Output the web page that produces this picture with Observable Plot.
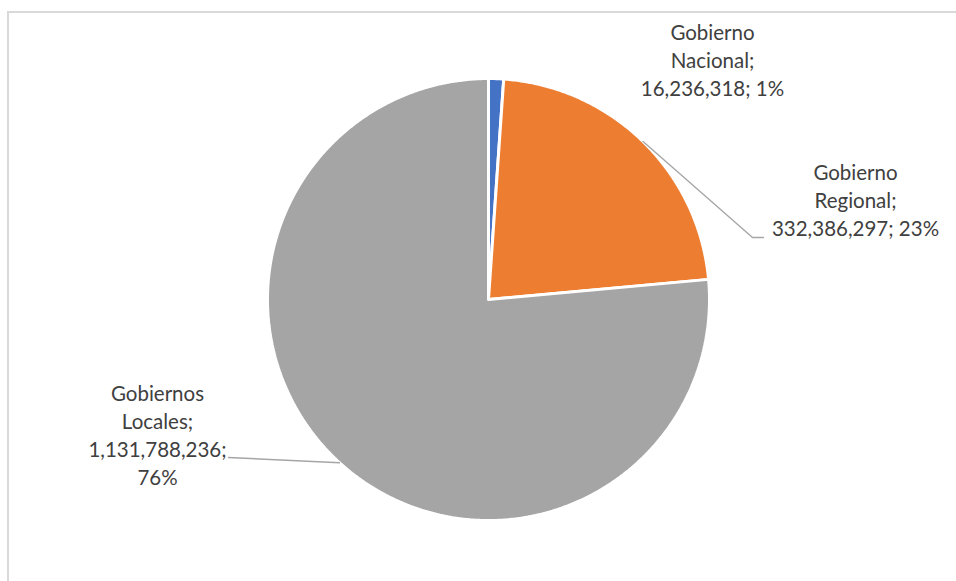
<!DOCTYPE html>
<html>
<head>
<meta charset="utf-8">
<script src="https://cdn.jsdelivr.net/npm/d3@7"></script>
<script src="https://cdn.jsdelivr.net/npm/@observablehq/plot@0.6"></script>
<style>
  html, body { margin: 0; padding: 0; background: #fff; overflow: hidden; }
  #wrap { position: relative; width: 956px; height: 581px; overflow: hidden; }
  #border { position: absolute; left: 7px; top: 11px; width: 1000px; height: 700px;
            border: 2px solid #d9d9d9; box-sizing: border-box; }
  #chart { position: absolute; left: 0; top: 0; }
</style>
</head>
<body>
<div id="wrap"><div id="border"></div><div id="chart"></div></div>
<script>
// ---- data ----
const names = ["Gobierno Nacional", "Gobierno Regional", "Gobiernos Locales"];
const values = [16236318, 332386297, 1131788236];
const pctLabels = [1, 23, 76];
const colors = ["#4472C4", "#ED7D31", "#A5A5A5"];

// label layout (pie radius units, relative to centre)
const labelPos = [
  {x: 1.0136, y: 1.0877, splitLast: false, leader: null},
  {x: 1.6606, y: 0.4552, splitLast: false, leader: [[1.1946, 0.2805], [1.2443, 0.2805]]},
  {x: -1.4977, y: -0.6092, splitLast: true, leader: [[-1.1765, -0.7149]]}
];

const total = d3.sum(values);
const fmt = d3.format(",");
let acc = 0;
const slices = values.map((v, i) => {
  const a0 = acc / total * 2 * Math.PI;
  acc += v;
  const a1 = acc / total * 2 * Math.PI;
  return {name: names[i], a0, a1, mid: (a0 + a1) / 2};
});

// polygon points for each slice
const pts = [];
for (const s of slices) {
  pts.push({name: s.name, x: 0, y: 0});
  const n = Math.max(2, Math.ceil((s.a1 - s.a0) / (Math.PI / 360)));
  for (let k = 0; k <= n; k++) {
    const a = s.a0 + (s.a1 - s.a0) * k / n;
    pts.push({name: s.name, x: Math.sin(a), y: Math.cos(a)});
  }
  pts.push({name: s.name, x: 0, y: 0});
}

// leader lines
const leaders = [];
slices.forEach((s, i) => {
  const L = labelPos[i].leader;
  if (!L) return;
  leaders.push({id: i, x: Math.sin(s.mid), y: Math.cos(s.mid)});
  for (const [x, y] of L) leaders.push({id: i, x, y});
});

// labels
const labels = slices.map((s, i) => {
  const parts = names[i].split(" ");
  const lp = labelPos[i];
  const tail = lp.splitLast
    ? `${fmt(values[i])};\n${pctLabels[i]}%`
    : `${fmt(values[i])}; ${pctLabels[i]}%`;
  return {x: lp.x, y: lp.y, text: `${parts[0]}\n${parts[1]};\n${tail}`};
});

const chart = Plot.plot({
  width: 956,
  height: 581,
  margin: 0,
  x: {domain: [-1, 1], range: [267, 709], axis: null},
  y: {domain: [-1, 1], range: [520, 78], axis: null},
  color: {domain: names, range: colors},
  marks: [
    Plot.line(pts, {x: "x", y: "y", z: "name", fill: "name", stroke: "white", strokeWidth: 3, strokeLinejoin: "miter"}),
    Plot.line(leaders, {x: "x", y: "y", z: "id", stroke: "#a6a6a6", strokeWidth: 1.4}),
    Plot.text(labels, {x: "x", y: "y", text: "text", fill: "#404040", fontSize: 20.5,
      fontFamily: "Lato, 'Open Sans', sans-serif", lineHeight: 1.37, textAnchor: "middle", lineAnchor: "middle"})
  ]
});
document.getElementById("chart").appendChild(chart);
</script>
</body>
</html>
